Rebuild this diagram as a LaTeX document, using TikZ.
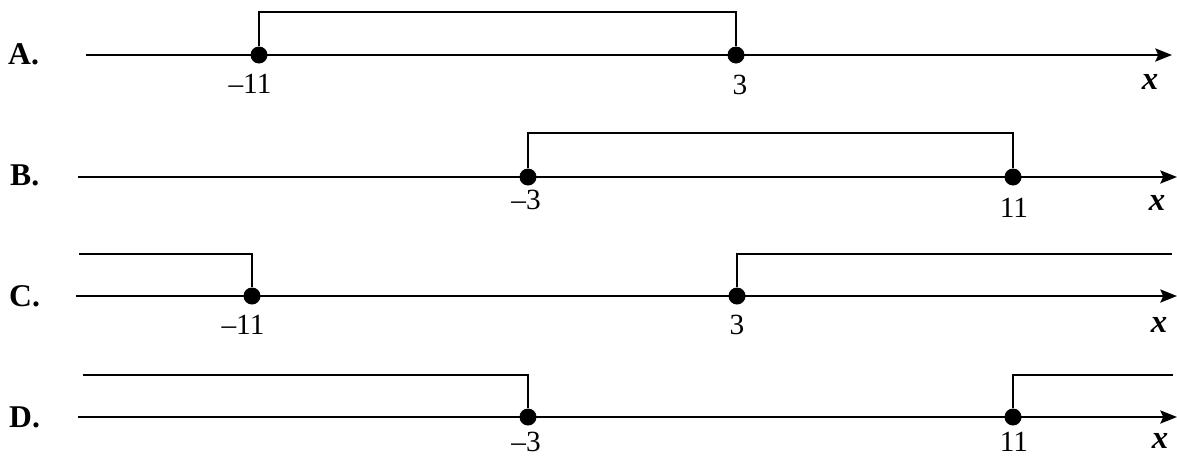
\documentclass[tikz,border=0pt]{standalone}
\usepackage{fontspec}
\setmainfont{Liberation Serif}
\usetikzlibrary{arrows.meta, positioning}
\tikzstyle{axisline} = [line width=0.8mm, -{Stealth[length=5mm,width=3.9mm,inset=0.9mm]}]
\tikzstyle{bracket} = [line width=0.65mm]
\tikzstyle{dot} = [circle, fill=black, inner sep=0pt, minimum size=5.1mm]
\tikzstyle{num} = [inner sep=0pt, font=\fontsize{25}{29}\selectfont]
\tikzstyle{rowname} = [anchor=base west, inner sep=0pt, font=\fontsize{27}{31}\selectfont\bfseries]
\tikzstyle{varname} = [inner sep=0pt, font=\fontsize{28}{32}\selectfont\bfseries\itshape]

\begin{document}
\begin{tikzpicture}[x=0.3mm, y=-0.3mm]
  \useasboundingbox (0,0) rectangle (1177,456);

  % A
  \node (rowA) [rowname] at (8,64) {A.};
  \coordinate (aStart) at (86,55);
  \coordinate (aEnd) at (1172,55);
  \draw [axisline] (aStart) -- (aEnd);
  \node (a1) [dot] at (259,55) {};
  \node (a2) [dot] at (736,55) {};
  \draw [bracket] (a1.north) -- (a1.north |- 0,12) -| (a2.north);
  \node (a1lbl) [num] at (250,84) {–11};
  \node (a2lbl) [num] at (740,85) {3};
  \node (aVar) [varname] at (1150,82) {x};

  % B
  \node (rowB) [rowname] at (10,185) {B.};
  \coordinate (bStart) at (78,177);
  \coordinate (bEnd) at (1177,177);
  \draw [axisline] (bStart) -- (bEnd);
  \node (b1) [dot] at (528,177) {};
  \node (b2) [dot] at (1013,177) {};
  \draw [bracket] (b1.north) -- (b1.north |- 0,133) -| (b2.north);
  \node (b1lbl) [num] at (526,200) {–3};
  \node (b2lbl) [num] at (1014,208) {11};
  \node (bVar) [varname] at (1157,203) {x};

  % C
  \node (rowC) [rowname] at (9,306) {C.};
  \coordinate (cStart) at (76,296);
  \coordinate (cEnd) at (1177,296);
  \draw [axisline] (cStart) -- (cEnd);
  \node (c1) [dot] at (252,296) {};
  \node (c2) [dot] at (737,296) {};
  \coordinate (cRayL) at (79,254);
  \coordinate (cRayR) at (1172,254);
  \draw [bracket] (cRayL) -| (c1.north);
  \draw [bracket] (c2.north) |- (cRayR);
  \node (c1lbl) [num] at (243,325) {–11};
  \node (c2lbl) [num] at (737,325) {3};
  \node (cVar) [varname] at (1159,325) {x};

  % D
  \node (rowD) [rowname] at (9,427) {D.};
  \coordinate (dStart) at (78,417);
  \coordinate (dEnd) at (1177,417);
  \draw [axisline] (dStart) -- (dEnd);
  \node (d1) [dot] at (528,417) {};
  \node (d2) [dot] at (1013,417) {};
  \coordinate (dRayL) at (83,375);
  \coordinate (dRayR) at (1173,375);
  \draw [bracket] (dRayL) -| (d1.north);
  \draw [bracket] (d2.north) |- (dRayR);
  \node (d1lbl) [num] at (526,442) {–3};
  \node (d2lbl) [num] at (1014,442) {11};
  \node (dVar) [varname] at (1160,441) {x};
\end{tikzpicture}
\end{document}
